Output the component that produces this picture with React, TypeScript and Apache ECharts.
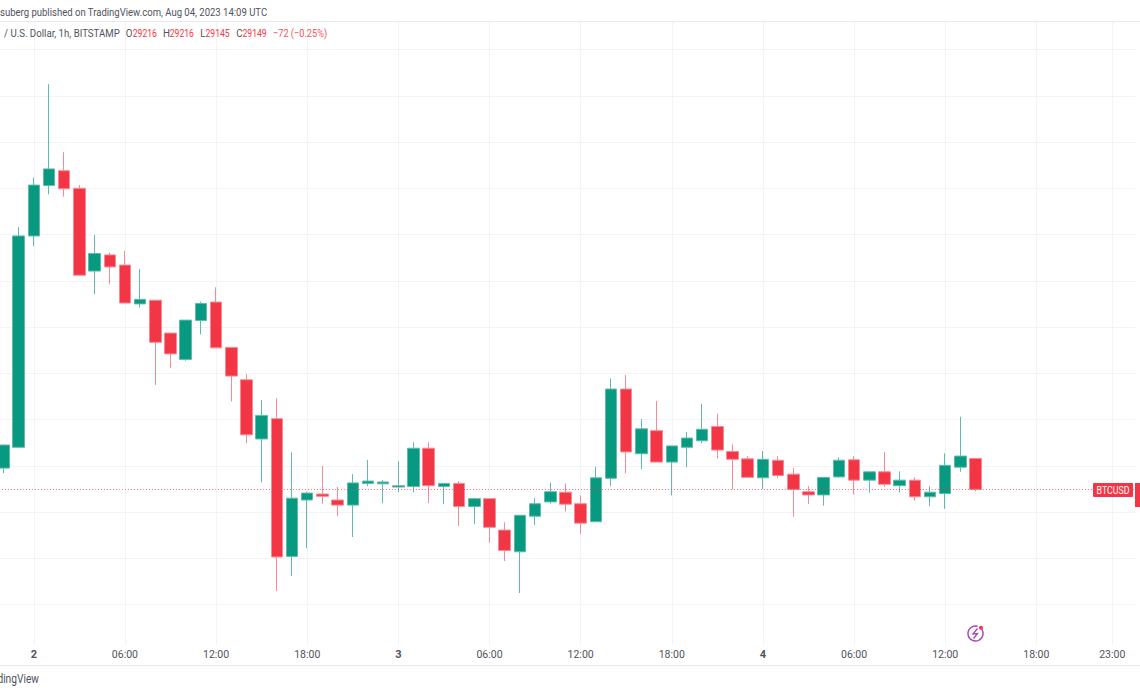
import React, { useEffect, useRef } from "react";
import * as echarts from "echarts";

const opens = [29195,29240,29697,29806,29838,29800,29621,29656,29634,29550,29558,29487,29430,29514,29554,29456,29386,29258,29302,29004,29126,29139,29126,29115,29162,29161,29154,29155,29238,29155,29162,29112,29129,29061,29014,29091,29122,29143,29118,29079,29173,29366,29226,29276,29208,29240,29254,29285,29231,29215,29174,29212,29182,29144,29137,29176,29213,29169,29187,29157,29169,29133,29140,29197,29216];
const closes = [29245,29697,29807,29842,29799,29612,29659,29630,29552,29560,29467,29442,29515,29551,29455,29394,29267,29309,29003,29130,29141,29134,29115,29163,29167,29165,29157,29238,29157,29162,29112,29129,29067,29017,29093,29118,29144,29117,29076,29174,29366,29230,29280,29208,29243,29260,29279,29234,29214,29175,29214,29179,29149,29137,29175,29212,29169,29187,29160,29169,29133,29143,29201,29221,29149];
const lows = [29184,29238,29675,29787,29782,29612,29571,29593,29552,29542,29375,29411,29427,29484,29455,29339,29249,29164,28929,28962,29022,29118,29091,29046,29156,29119,29143,29143,29119,29117,29070,29074,29034,28994,28925,29072,29118,29101,29052,29079,29156,29184,29193,29208,29136,29197,29249,29215,29149,29175,29150,29174,29090,29117,29114,29174,29138,29142,29154,29143,29124,29113,29107,29187,29145];
const highs = [29245,29716,29823,30025,29878,29807,29699,29661,29665,29625,29558,29487,29515,29555,29586,29456,29398,29342,29346,29229,29144,29200,29154,29182,29213,29169,29210,29251,29251,29162,29167,29131,29130,29078,29093,29130,29164,29162,29136,29198,29389,29396,29301,29340,29243,29273,29334,29313,29246,29221,29232,29221,29195,29156,29175,29218,29221,29187,29230,29188,29175,29156,29227,29306,29216];

const lastPrice = 29149;
const slotCount = 75;
const firstDay = 1;
const firstHour = 22;
const categories = Array.from({ length: slotCount }, (_, i) => {
  const t = firstHour + i;
  return `Aug ${firstDay + Math.floor(t / 24)} ${String(t % 24).padStart(2, "0")}:00`;
});
const tickSlots = [2, 8, 14, 20, 26, 32, 38, 44, 50, 56, 62, 68, 73];
const tickLabels = ["2", "06:00", "12:00", "18:00", "3", "06:00", "12:00", "18:00", "4", "06:00", "12:00", "18:00", "23:00"];
const dayLabels = ["2", "3", "4"];

const publishedText = "suberg published on TradingView.com, Aug 04, 2023 14:09 UTC";
const symbolText = "/ U.S. Dollar, 1h, BITSTAMP";
const ohlcNames = ["O", "H", "L", "C"];
const ohlcValues = ["29216", "29216", "29145", "29149"];
const changeText = "−72 (−0.25%)";

const UP = "#089981";
const DOWN = "#F23645";
const UP_EDGE = "#5fbcaa";
const DOWN_EDGE = "#f88a93";
const GRID = "#f3f3f5";
const TEXT = "#50535e";
const FONT = "Roboto, sans-serif";
const PURPLE = "#ab47bc";
const PAGE_SHIFT = 5;

const isTick = (i: number) => tickSlots.includes(i);

export default function App() {
  const ref = useRef<HTMLDivElement>(null);
  useEffect(() => {
    if (!ref.current) return;
    const chart = echarts.init(ref.current, undefined, { renderer: "svg" });
    const nameX = [125.7, 163, 200.3, 236.3];
    const valueX = [132.7, 169.7, 205.5, 242.5];
    const ohlcGraphics: any[] = [];
    ohlcNames.forEach((n, i) => {
      ohlcGraphics.push({
        type: "text", z: 50, x: nameX[i], y: 33, scaleX: 0.85,
        style: { text: n, fill: TEXT, font: `11.5px ${FONT}`, verticalAlign: "middle" },
      });
      ohlcGraphics.push({
        type: "text", z: 50, x: valueX[i], y: 33, scaleX: 0.75,
        style: { text: ohlcValues[i], fill: DOWN, font: `11.5px ${FONT}`, verticalAlign: "middle" },
      });
    });
    chart.setOption({
      animation: false,
      backgroundColor: "#ffffff",
      grid: [
        { left: 0.83, right: 4.92, top: 3.3, bottom: 43.2 },
        { left: 0.83, right: 4.92, top: 22, bottom: 49 },
      ],
      xAxis: [
        {
          type: "category", gridIndex: 0, data: categories, boundaryGap: true,
          axisLine: { show: false }, axisTick: { show: false }, axisLabel: { show: false }, splitLine: { show: false },
        },
        {
          type: "category", gridIndex: 1, data: categories, boundaryGap: true,
          axisLine: { show: false }, axisTick: { show: false },
          axisLabel: {
            show: true, margin: 4, interval: (i: number) => isTick(i),
            hideOverlap: false, color: TEXT, fontFamily: FONT, fontSize: 10.5,
            formatter: (_: string, i: number) => {
              const label = tickLabels[tickSlots.indexOf(i)] ?? "";
              return dayLabels.includes(label) ? `{day|${label}}` : label;
            },
            rich: { day: { fontWeight: "bold", fontSize: 11, fontFamily: FONT, color: TEXT } },
          },
          splitLine: {
            show: true, alignWithLabel: true, interval: (i: number) => isTick(i),
            lineStyle: { color: GRID, width: 1 },
          },
        },
      ],
      yAxis: [
        {
          type: "value", gridIndex: 0, min: 28800, max: 30200, interval: 100, scale: true,
          axisLine: { show: false }, axisTick: { show: false }, axisLabel: { show: false },
          splitLine: { show: true, showMinLine: false, showMaxLine: false, lineStyle: { color: GRID, width: 1 } },
        },
        {
          type: "value", gridIndex: 1, min: 0, max: 1, show: false,
        },
      ],
      series: [
        {
          type: "candlestick", xAxisIndex: 0, yAxisIndex: 0, barWidth: 12,
          data: opens.map((o, i) => [o, closes[i], lows[i], highs[i]]),
          itemStyle: { color: UP, color0: DOWN, borderColor: UP_EDGE, borderColor0: DOWN_EDGE, borderWidth: 1 },
          markLine: {
            silent: true, symbol: "none", animation: false, label: { show: false },
            lineStyle: { color: DOWN, type: [1, 2], width: 1, opacity: 0.75 },
            data: [{ yAxis: lastPrice }],
          },
        },
        { type: "line", xAxisIndex: 1, yAxisIndex: 1, data: [], showSymbol: false },
      ],
      graphic: {
        elements: [
          {
            type: "group", x: PAGE_SHIFT, y: 0, z: 40,
            children: [
              { type: "line", z: 40, shape: { x1: 0, y1: 21.5, x2: 1140, y2: 21.5 }, style: { stroke: "#e8e9ec", lineWidth: 1 } },
              { type: "line", z: 40, shape: { x1: 0, y1: 665.5, x2: 1140, y2: 665.5 }, style: { stroke: "#e8e9ec", lineWidth: 1 } },
              { type: "text", z: 50, x: 0, y: 12, scaleX: 0.83, style: { text: publishedText, fill: TEXT, font: `11.5px ${FONT}`, verticalAlign: "middle" } },
              { type: "text", z: 50, x: 4, y: 33, scaleX: 0.84, style: { text: symbolText, fill: TEXT, font: `11.5px ${FONT}`, verticalAlign: "middle" } },
              ...ohlcGraphics,
              { type: "text", z: 50, x: 273, y: 33, scaleX: 0.8, style: { text: changeText, fill: "#f7525f", font: `11.5px ${FONT}`, verticalAlign: "middle" } },
              { type: "text", z: 50, x: 39, y: 679, scaleX: 0.85, style: { text: "TradingView", fill: TEXT, font: `12px ${FONT}`, align: "right", verticalAlign: "middle" } },
              { type: "rect", z: 45, shape: { x: 1093, y: 483, width: 40, height: 14, r: 1 }, style: { fill: DOWN } },
              { type: "text", z: 50, x: 1113, y: 490, scaleX: 0.8, style: { text: "BTCUSD", fill: "#ffffff", font: `11px ${FONT}`, align: "center", verticalAlign: "middle" } },
              { type: "rect", z: 45, shape: { x: 1135, y: 483, width: 6, height: 24 }, style: { fill: DOWN } },
              { type: "arc", z: 45, shape: { cx: 975.5, cy: 633.5, r: 7.5, startAngle: -0.9, endAngle: 5.0 }, style: { stroke: PURPLE, fill: "none", lineWidth: 1.5 } },
              { type: "polyline", z: 46, shape: { points: [[977.5, 628.5], [973, 634], [977.5, 633.5], [973.5, 638.5]] }, style: { stroke: PURPLE, fill: "none", lineWidth: 1.3 } },
              { type: "circle", z: 46, shape: { cx: 981, cy: 627.8, r: 2 }, style: { fill: DOWN } },
            ],
          },
        ],
      },
    });
    return () => chart.dispose();
  }, []);
  return <div ref={ref} style={{ position: "absolute", left: -PAGE_SHIFT, top: 0, width: 1140 + PAGE_SHIFT, height: 694 }} />;
}
